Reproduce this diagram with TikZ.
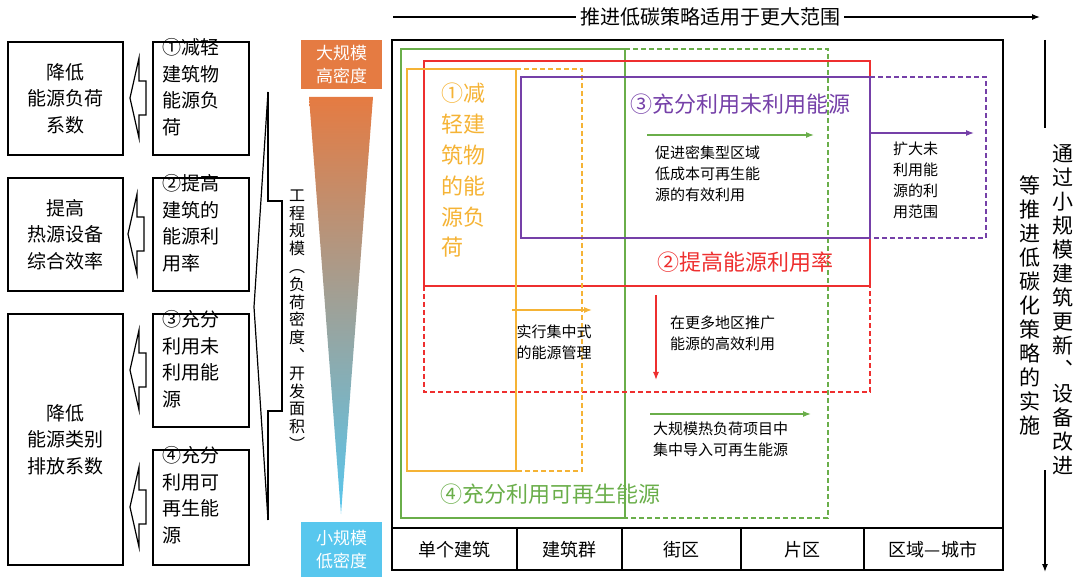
\documentclass[tikz,border=0pt]{standalone}
\usepackage{fontspec}
\setmainfont{Noto Sans CJK SC}
\usetikzlibrary{arrows.meta}
\definecolor{cOrange}{HTML}{F5B335}
\definecolor{cRed}{HTML}{EE2F2F}
\definecolor{cGreen}{HTML}{6AAE4A}
\definecolor{cPurple}{HTML}{7540A8}
\definecolor{cTop}{HTML}{E57B42}
\definecolor{cMid}{HTML}{C8A8A8}
\definecolor{cLow}{HTML}{58C7EE}
\newcommand{\fsz}[1]{\fontsize{#1pt}{\dimexpr #1pt*140/100\relax}\selectfont}
\newcommand{\hollowarrow}[2]{% x of tip, y of middle
  \draw[line width=1.2pt] (#1,#2) -- ++(9,-40) -- ++(0,23) -- ++(7,0) -- ++(0,34) -- ++(-7,0) -- ++(0,23) -- cycle;}

\begin{document}
\begin{tikzpicture}
[x=1pt,y=-1pt,>={Latex[length=8pt,width=6pt]},
 solidline/.style={line width=1.3pt},
 dashline/.style={line width=1.3pt,dash pattern=on 5pt off 3pt},
 box/.style={draw,line width=1.2pt,inner sep=0pt},
 lab/.style={align=left,inner sep=0pt,font=\fsz{15}},
 big/.style={inner sep=0pt,font=\fsz{22}}]
\useasboundingbox (0,0) rectangle (1080,577);

% left boxes
\node[box,minimum width=115,minimum height=113,align=center,font=\fsz{19}] (redload) at (65.5,98.5) {降低\\能源负荷\\系数};
\node[box,minimum width=115,minimum height=113,align=center,font=\fsz{19}] (effic) at (65.5,234.5) {提高\\热源设备\\综合效率};
\node[box,minimum width=115,minimum height=251,align=center,font=\fsz{19}] (emis) at (65.5,439.5) {降低\\能源类别\\排放系数};
\node[box,minimum width=96,minimum height=113] (s1) at (201,98.5) {};
\node[box,minimum width=96,minimum height=113] (s2) at (201,234.5) {};
\node[box,minimum width=96,minimum height=113] (s3) at (201,370.5) {};
\node[box,minimum width=96,minimum height=115] (s4) at (201,507.5) {};
\foreach \n/\t in {s1/①减轻\\建筑物\\能源负\\荷, s2/②提高\\建筑的\\能源利\\用率, s3/③充分\\利用未\\利用能\\源, s4/④充分\\利用可\\再生能\\源}
  \node[align=left,inner sep=0pt,font=\fsz{19},anchor=north west] at ([shift={(10,-3)}]\n.north west) {\t};
\hollowarrow{130}{98}
\hollowarrow{128}{234}
\hollowarrow{130}{370}
\hollowarrow{130}{507}

% bracket
\draw[line width=1.2pt] (268,92) -- (254,307) -- (268,520);
\draw[line width=1.2pt] (268,92) -- (268,201) -- (282,201) -- (282,411) -- (268,411) -- (268,520);
\node[align=center,inner sep=0pt,font=\fontsize{16pt}{17.8pt}\selectfont] (scale) at (297,320) {工\\程\\规\\模\\︵\\负\\荷\\密\\度\\︑\\开\\发\\面\\积\\︶};

% gradient triangle
\shade[top color=cTop,middle color=cMid,bottom color=cLow] (309,97) -- (373,97) -- (341,514) -- cycle;
\node[fill=cTop,minimum width=81,minimum height=49,align=center,text=white,font=\fsz{17}] (hi) at (341.5,64.5) {大规模\\高密度};
\node[fill=cLow,minimum width=81,minimum height=55,align=center,text=white,font=\fsz{17}] (lo) at (341.5,549.5) {小规模\\低密度};

% main frame
\draw[line width=1.2pt] (392,40) rectangle (1003,570);
\draw[line width=1.2pt] (392,528) -- (1003,528);
\foreach \x in {517,622,741,864} \draw[line width=1.2pt] (\x,528) -- (\x,570);
\foreach \x/\t in {454/单个建筑,569/建筑群,681/街区,802/片区,933/区域—城市}
  \node[font=\fsz{18},inner sep=0pt] at (\x,550) {\t};

% top arrow
\coordinate (ta) at (393,17);
\coordinate (tb) at (1040,17);
\draw[line width=1.2pt,->] (ta) -- (tb);
\node[fill=white,font=\fsz{20},inner sep=4pt] (toptxt) at (710,17) {推进低碳策略适用于更大范围};

% right arrow
\coordinate (ra) at (1045,40);
\coordinate (rb) at (1045,572);
\draw[line width=1.2pt,->] (ra) -- (rb);
\fill[white] (1036,128) rectangle (1054,470);
\node[align=center,inner sep=0pt,font=\fontsize{21pt}{24pt}\selectfont] (rt1) at (1063,310) {通\\过\\小\\规\\模\\建\\筑\\更\\新\\︑\\设\\备\\改\\进};
\node[align=center,inner sep=0pt,font=\fontsize{21pt}{24pt}\selectfont] (rt2) at (1030,305) {等\\推\\进\\低\\碳\\化\\策\\略\\的\\实\\施};

% strategy regions
\draw[cGreen,solidline] (625,49) -- (401,49) -- (401,518) -- (625,518) -- cycle;
\draw[cGreen,dashline] (625,49) -- (828,49) -- (828,518) -- (625,518);
\draw[cRed,solidline] (424,61) rectangle (870,286);
\draw[cRed,dashline] (424,286) -- (424,392) -- (870,392) -- (870,286);
\draw[cOrange,solidline] (407,69) rectangle (516,471);
\draw[cOrange,dashline] (516,69) -- (582,69) -- (582,471) -- (516,471);
\draw[cPurple,solidline] (521,77) rectangle (870,238);
\draw[cPurple,dashline] (870,77) -- (986,77) -- (986,238) -- (870,238);

\node[big,text=cOrange,align=left,anchor=north west] (t1) at (441,83) {①减\\轻建\\筑物\\的能\\源负\\荷};
\node[big,text=cPurple] (t3) at (740,104) {③充分利用未利用能源};
\node[big,text=cRed] (t2) at (745,262) {②提高能源利用率};
\node[big,text=cGreen] (t4) at (550,494) {④充分利用可再生能源};

% arrows and notes
\coordinate (g1a) at (647,135); \coordinate (g1b) at (814,135);
\draw[cGreen,solidline,->] (g1a) -- (g1b);
\node[lab,anchor=north west] (n1) at (655,146) {促进密集型区域\\低成本可再生能\\源的有效利用};
\coordinate (p1a) at (870,133); \coordinate (p1b) at (974,133);
\draw[cPurple,solidline,->] (p1a) -- (p1b);
\node[lab,anchor=north west] (n2) at (893,142) {扩大未\\利用能\\源的利\\用范围};
\coordinate (o1a) at (512,310); \coordinate (o1b) at (592,310);
\draw[cOrange,solidline,->] (o1a) -- (o1b);
\node[lab,align=center] (n3) at (554,342) {实行集中式\\的能源管理};
\coordinate (r1a) at (656,295); \coordinate (r1b) at (656,380);
\draw[cRed,solidline,->] (r1a) -- (r1b);
\node[lab,anchor=north west] (n4) at (670,316) {在更多地区推广\\能源的高效利用};
\coordinate (g2a) at (650,414); \coordinate (g2b) at (811,414);
\draw[cGreen,solidline,->] (g2a) -- (g2b);
\node[lab,anchor=north west] (n5) at (653,422) {大规模热负荷项目中\\集中导入可再生能源};
\end{tikzpicture}
\end{document}
